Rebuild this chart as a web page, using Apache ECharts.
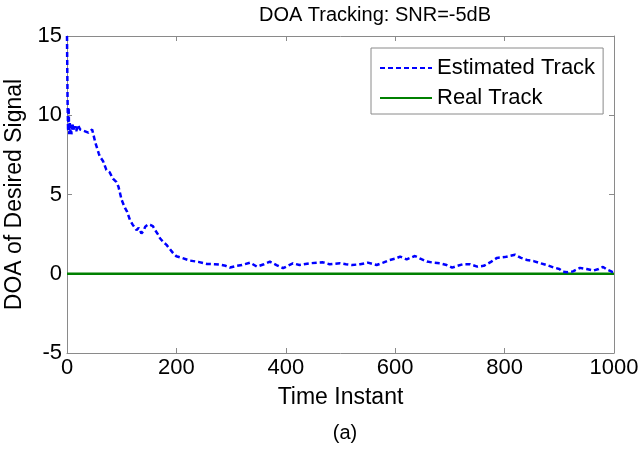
<!DOCTYPE html>
<html>
<head>
<meta charset="utf-8">
<script src="https://cdn.jsdelivr.net/npm/echarts@6/dist/echarts.min.js"></script>
<style>html,body{margin:0;padding:0;background:#fff;}#c{width:642px;height:449px;}</style>
</head>
<body>
<div id="c"></div>
<script>
const titleText = 'DOA Tracking: SNR=-5dB';
const xTitle = 'Time Instant';
const yTitle = 'DOA of Desired Signal';
const caption = '(a)';
const seriesNames = ['Estimated Track', 'Real Track'];
const timeInstants = [0,1,2,3,4,5,6,7,8,10,12,14,17,20,24,27,32,39,46,52,58,60,66,72,78,84,90,94,100,106,110,115,120,127,131,136,140,143,148,152,157,161,166,170,176,182,188,194,200,210,225,240,256,270,280,290,298,310,320,335,347,360,371,383,395,413,425,444,457,468,480,499,510,521,536,550,566,578,590,600,609,621,636,646,658,670,682,694,704,714,724,737,750,762,775,786,800,819,830,841,853,865,877,889,900,907,915,925,938,950,962,972,980,988,996,1000];
const estimatedDOA = [15,11,9.0,10.5,8.8,9.6,8.9,9.4,8.8,9.5,9.0,9.3,9.0,9.4,9.1,9.1,9.0,8.9,9.1,8.25,7.6,7.4,7.1,6.55,6.4,6.0,5.8,5.5,4.65,4.15,3.9,3.4,3.1,2.76,2.9,2.55,2.7,2.97,3.1,3.08,3.0,2.76,2.5,2.24,2.0,1.82,1.56,1.3,1.1,1.0,0.83,0.75,0.62,0.6,0.57,0.5,0.39,0.5,0.55,0.7,0.45,0.6,0.76,0.55,0.35,0.66,0.55,0.66,0.7,0.72,0.6,0.66,0.6,0.55,0.6,0.7,0.55,0.7,0.87,0.95,1.08,0.91,1.12,0.95,0.77,0.7,0.66,0.55,0.39,0.5,0.6,0.6,0.45,0.5,0.75,1.0,1.05,1.2,1.0,0.87,0.8,0.67,0.55,0.4,0.3,0.13,0.1,0.15,0.37,0.3,0.2,0.3,0.43,0.25,0.13,0.1];
const realTime = [0,1000];
const realDOA = [0,0];
const xTicks = {min:0,max:1000,interval:200};
const yTicks = {min:-5,max:15,interval:5};

const FONT = '"Liberation Sans", Arial, sans-serif';
const axisGray = '#8a8a8a';
const chart = echarts.init(document.getElementById('c'));
const est = timeInstants.map((t,i)=>[t, estimatedDOA[i]]);
const real = realTime.map((t,i)=>[t, realDOA[i]]);
const plain = v => String(v);
const baseAxis = {
  axisLine:{show:true,onZero:false,lineStyle:{color:axisGray,width:1}},
  axisTick:{show:true,inside:true,length:5,lineStyle:{color:axisGray}},
  splitLine:{show:false}
};
chart.setOption({
  animation:false,
  backgroundColor:'#fff',
  title:[
    {text:titleText,left:370,top:0,textAlign:'center',textStyle:{fontFamily:FONT,fontWeight:'normal',fontSize:20,color:'#000'}},
    {text:caption,left:340,top:418,textAlign:'center',textStyle:{fontFamily:FONT,fontWeight:'normal',fontSize:20,color:'#000'}}
  ],
  grid:{left:67,right:28,top:36,bottom:96,containLabel:false,outerBoundsMode:'none'},
  legend:{
    orient:'vertical',left:371,top:48,
    data:seriesNames,
    itemWidth:52,itemHeight:14,itemGap:8,
    padding:[9,8,5,8],
    borderColor:axisGray,borderWidth:1,backgroundColor:'#fff',
    itemStyle:{opacity:0},
    textStyle:{fontFamily:FONT,fontSize:22,color:'#000'},
  },
  xAxis:[
    Object.assign({type:'value',min:xTicks.min,max:xTicks.max,interval:xTicks.interval,position:'bottom',
      name:xTitle,nameLocation:'middle',nameGap:33,
      nameTextStyle:{fontFamily:FONT,fontSize:23,color:'#000'},
      axisLabel:{fontFamily:FONT,fontSize:22,color:'#000',margin:4,formatter:plain}},baseAxis),
    Object.assign({type:'value',min:xTicks.min,max:xTicks.max,interval:xTicks.interval,position:'top',
      axisLabel:{show:false}},baseAxis)
  ],
  yAxis:[
    Object.assign({type:'value',min:yTicks.min,max:yTicks.max,interval:yTicks.interval,position:'left',
      name:yTitle,nameLocation:'middle',nameGap:33,
      nameTextStyle:{fontFamily:FONT,fontSize:23,color:'#000'},
      axisLabel:{fontFamily:FONT,fontSize:22,color:'#000',margin:5,formatter:plain}},baseAxis),
    Object.assign({type:'value',min:yTicks.min,max:yTicks.max,interval:yTicks.interval,position:'right',
      axisLabel:{show:false}},baseAxis)
  ],
  series:[
    {name:seriesNames[0],type:'line',data:est,symbol:'none',xAxisIndex:0,yAxisIndex:0,
      lineStyle:{color:'#0000ff',width:2.5,type:[5,3]},itemStyle:{color:'#0000ff'},z:3},
    {name:seriesNames[1],type:'line',data:real,symbol:'none',xAxisIndex:0,yAxisIndex:0,
      lineStyle:{color:'#008000',width:2.5},itemStyle:{color:'#008000'},z:2}
  ]
});
</script>
</body>
</html>
